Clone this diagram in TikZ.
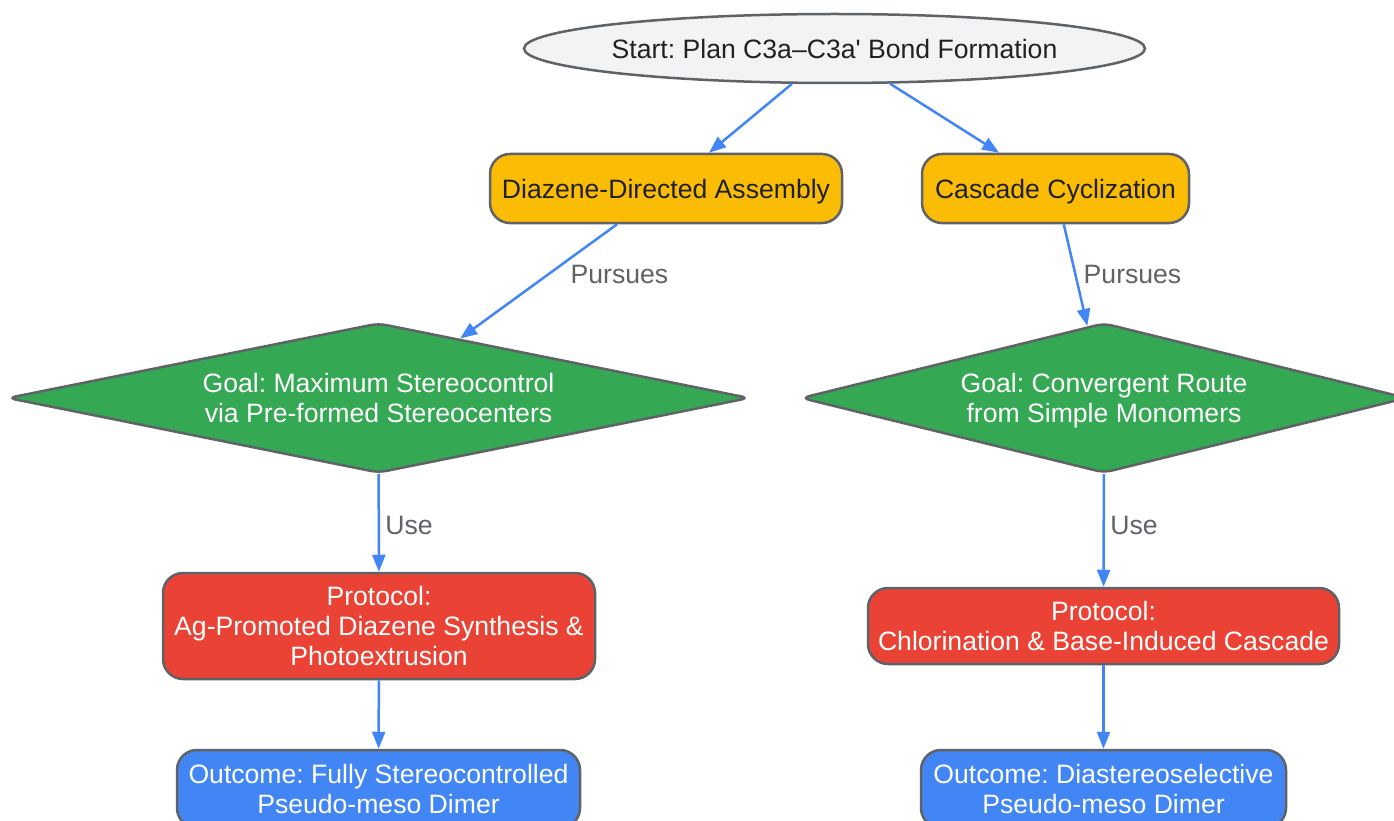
\documentclass[tikz,border=0pt]{standalone}
\usepackage{fontspec}
\setmainfont{Liberation Sans}
\newfontfamily\rawfont{Liberation Sans}
\usetikzlibrary{shapes.geometric,arrows.meta}
\definecolor{strokegray}{HTML}{5F6368}
\definecolor{startfill}{HTML}{F1F3F4}
\definecolor{gyellow}{HTML}{FBBC05}
\definecolor{ggreen}{HTML}{34A853}
\definecolor{gred}{HTML}{EA4335}
\definecolor{gblue}{HTML}{4285F4}
\definecolor{darktext}{HTML}{202124}
\definecolor{labelgray}{HTML}{5F6368}
\frenchspacing
\begin{document}
\begin{tikzpicture}[x=1pt,y=-1pt,
  every node/.style={font=\fontsize{26.6}{30}\selectfont},
  base/.style={draw=strokegray, line width=2.5pt, inner sep=0pt, align=center},
  startnode/.style={base, ellipse, fill=startfill, text=darktext, inner xsep=-4pt, minimum width=621pt, minimum height=69pt},
  approach/.style={base, rectangle, rounded corners=20pt, fill=gyellow, text=darktext, text depth=0pt, minimum height=69pt},
  goal/.style={base, diamond, aspect=5, rounded corners=8pt, fill=ggreen, text=white, text depth=0pt, minimum height=150pt},
  protocol/.style={base, rectangle, rounded corners=20pt, fill=gred, text=white},
  outcome/.style={base, rectangle, rounded corners=20pt, fill=gblue, text=white, minimum height=78pt},
  flow/.style={draw=gblue, line width=2.5pt, -{Triangle[length=17pt,width=13pt]}},
  elabel/.style={text=labelgray, inner sep=0pt}
]
\clip (0,0) rectangle (1394,821);
\fill[white] (0,0) rectangle (1394,821);

\node[startnode] (start) at (834.5,48.5) {Start: Plan C3a–C3a{\rawfont'} Bond Formation};

\node[approach, minimum width=352pt] (dz) at (666,188.5) {Diazene-Directed Assembly};
\node[approach, minimum width=267pt] (cc) at (1055.5,188.5) {Cascade Cyclization};

\node[goal, minimum width=742pt] (g1) at (378.5,398) {Goal: Maximum Stereocontrol\\via Pre-formed Stereocenters};
\node[goal, minimum width=606pt] (g2) at (1104,398) {Goal: Convergent Route\\from Simple Monomers};

\node[protocol, minimum width=432pt, minimum height=106pt] (p1) at (379,626) {Protocol:\\Ag-Promoted Diazene Synthesis \&\\Photoextrusion};
\node[protocol, minimum width=471pt, minimum height=76pt] (p2) at (1103.5,626) {Protocol:\\Chlorination \& Base-Induced Cascade};

\node[outcome, minimum width=403pt] (o1) at (378.5,789) {Outcome: Fully Stereocontrolled\\Pseudo-meso Dimer};
\node[outcome, minimum width=365pt] (o2) at (1103.5,789) {Outcome: Diastereoselective\\Pseudo-meso Dimer};

\draw[flow] (start) -- (dz);
\draw[flow] (start) -- (cc);
\draw[flow] (dz) -- (g1);
\draw[flow] (cc) -- (g2);
\draw[flow] (g1) -- (p1);
\draw[flow] (g2) -- (p2);
\draw[flow] (p1) -- (o1);
\draw[flow] (p2) -- (o2);

\node[elabel] (l1) at (619.5,274) {Pursues};
\node[elabel] (l2) at (1132.5,274) {Pursues};
\node[elabel] (l3) at (409,525) {Use};
\node[elabel] (l4) at (1134,525) {Use};
\end{tikzpicture}
\end{document}
